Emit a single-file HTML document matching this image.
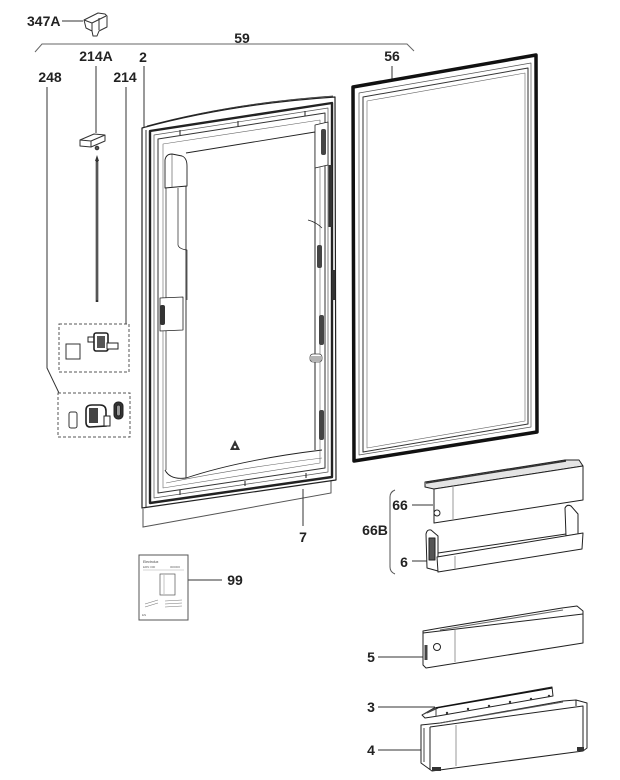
<!DOCTYPE html>
<html>
<head>
<meta charset="utf-8">
<style>
html,body{margin:0;padding:0;background:#fff;}
svg{display:block;}
text{font-family:"Liberation Sans",Arial,sans-serif;font-weight:bold;font-size:14px;fill:#222;}
</style>
</head>
<body>
<svg width="620" height="780" viewBox="0 0 620 780" xmlns="http://www.w3.org/2000/svg">
<rect width="620" height="780" fill="#fff"/>

<!-- ===== Labels ===== -->
<text x="27" y="26">347A</text>
<text x="242" y="43" text-anchor="middle">59</text>
<text x="96" y="61" text-anchor="middle">214A</text>
<text x="143" y="62" text-anchor="middle">2</text>
<text x="50" y="82" text-anchor="middle">248</text>
<text x="125" y="82" text-anchor="middle">214</text>
<text x="392" y="61" text-anchor="middle">56</text>
<text x="303" y="542" text-anchor="middle">7</text>
<text x="235" y="585" text-anchor="middle">99</text>
<text x="375" y="535" text-anchor="middle">66B</text>
<text x="400" y="510" text-anchor="middle">66</text>
<text x="404" y="567" text-anchor="middle">6</text>
<text x="371" y="662" text-anchor="middle">5</text>
<text x="371" y="712" text-anchor="middle">3</text>
<text x="371" y="755" text-anchor="middle">4</text>

<!-- ===== Leader lines ===== -->
<g stroke="#333" stroke-width="1" fill="none">
  <line x1="62" y1="21" x2="83" y2="21"/>
  <path d="M35,52 L42,44 L407,44 L414,51" stroke="#666"/>
  <line x1="96" y1="66" x2="96" y2="133"/>
  <line x1="144" y1="66" x2="144" y2="127"/>
  <path d="M47,87 L47,368 L59,393"/>
  <line x1="126" y1="87" x2="126" y2="324"/>
  <line x1="392" y1="66" x2="392" y2="87"/>
  <path d="M143,509 L143,527 L331,493 L331,479" stroke="#555"/>
  <line x1="303" y1="489" x2="303" y2="526"/>
  <line x1="183" y1="580" x2="222" y2="580"/>
  <path d="M395,490 Q390,492 390,497 L390,567 Q390,572 395,574" stroke="#555"/>
  <line x1="412" y1="505" x2="433" y2="505"/>
  <line x1="412" y1="561" x2="428" y2="561"/>
  <line x1="378" y1="657" x2="425" y2="657"/>
  <line x1="378" y1="707" x2="435" y2="707"/>
  <line x1="378" y1="750" x2="425" y2="750"/>
</g>

<!-- ===== 347A part ===== -->
<g stroke="#333" stroke-width="1" fill="#fff" stroke-linejoin="round">
  <path d="M84,20 L98,13 L105,14 L107,16 L107,27 L99,31 L97,36 L93,36 L92,31 L86,28 Z"/>
  <path d="M84,20 L92,23 L106,16" fill="none"/>
  <path d="M92,23 L92,31" fill="none"/>
  <path d="M99,18 L99,30" fill="none"/>
</g>

<!-- ===== 214A part ===== -->
<g stroke="#333" stroke-width="1" fill="#fff" stroke-linejoin="round">
  <path d="M80,140 L94,134 L105,135 L105,141 L91,147 L80,146 Z"/>
  <path d="M80,140 L91,141 L105,135 M91,141 L91,147" fill="none"/>
  <circle cx="97" cy="148" r="1.8" fill="#555"/>
</g>
<!-- rod -->
<path d="M95,161 L97,155 L99,161 Z" fill="#333"/>
<line x1="97" y1="160" x2="97" y2="302" stroke="#333" stroke-width="2.6"/>
<line x1="97" y1="162" x2="97" y2="300" stroke="#999" stroke-width="0.7"/>

<!-- ===== 214 box ===== -->
<rect x="59" y="324" width="70" height="48" fill="none" stroke="#555" stroke-width="1" stroke-dasharray="3,2"/>
<rect x="66" y="344" width="14" height="15" fill="#fff" stroke="#333" stroke-width="1"/>
<g stroke="#222" stroke-width="1">
  <rect x="88" y="337" width="7" height="5" fill="#fff"/>
  <rect x="94" y="333" width="14" height="18" rx="2" fill="#fff" stroke-width="1.6"/>
  <rect x="97" y="336" width="8" height="12" fill="#555" stroke="none"/>
  <rect x="107" y="343" width="11" height="6" fill="#fff"/>
</g>

<!-- ===== 248 box ===== -->
<rect x="58" y="393" width="72" height="44" fill="none" stroke="#555" stroke-width="1" stroke-dasharray="3,2"/>
<rect x="69" y="412" width="8" height="16" rx="2" fill="#fff" stroke="#333"/>
<g stroke="#222" stroke-width="1">
  <path d="M86,410 Q86,405 92,405 L100,405 Q106,405 106,411 L106,426 L90,427 Q86,427 86,422 Z" fill="#fff" stroke-width="1.6"/>
  <rect x="89" y="408" width="9" height="15" fill="#444" stroke="none"/>
  <rect x="104" y="416" width="6" height="10" fill="#fff"/>
  <rect x="114" y="402" width="9" height="17" rx="4" fill="#333"/>
  <rect x="116.5" y="405" width="4" height="11" rx="2" fill="#999"/>
</g>

<!-- ===== Door (2) ===== -->
<g fill="none" stroke="#222" stroke-linejoin="round">
  <path d="M142,128 Q230,104 335,97 L336,480 L142,508 Z" fill="#fff" stroke-width="1.2"/>
  <path d="M146,130 L146,507" stroke-width="0.9"/>
  <path d="M147,126 Q232,103 333,96" stroke-width="0.8"/>
  <path d="M150,131 L332,103 L332,477 L150,503 Z" stroke-width="2.4"/>
  <path d="M154,135 L328,108 L328,472 L154,498 Z" stroke-width="0.7" stroke="#555"/>
  <path d="M158,139 L325,113 L325,468 L158,493 Z" stroke-width="1" stroke="#333"/>
  <path d="M163,144 L320,120 L320,463 L163,488 Z" stroke-width="0.6" stroke="#666"/>
  <!-- inner panel -->
  <path d="M186,153 L315,132 L315,450" stroke-width="0.9"/>
  <path d="M186,186 L186,478" stroke-width="0.9"/>
  <!-- bottom curved shelf -->
  <path d="M165,470 Q170,480 186,478 M186,478 Q240,460 322,450" stroke-width="0.9"/>
  <path d="M166,483 Q240,468 322,458" stroke-width="0.6" stroke="#666"/>
  <!-- top-left block -->
  <path d="M165,160 Q166,154 172,154 L182,156 Q187,158 187,166 L187,186 L165,188 Z" fill="#fff" stroke-width="0.9"/>
  <path d="M172,154 L172,187" stroke-width="0.5"/>
  <!-- left column -->
  <path d="M166,188 L166,470" stroke-width="0.7"/>
  <path d="M178,188 L178,245 Q179,249 187,250 L187,300" stroke-width="0.7"/>
  <path d="M160,298 L183,297 L183,330 L160,331 Z" fill="#fff" stroke-width="0.8"/>
  <rect x="160" y="305" width="5" height="20" rx="2" fill="#333" stroke="none"/>
  <!-- right column -->
  <path d="M315,125 L328,122 L328,165 L315,168 Z" fill="#fff" stroke-width="0.8"/>
  <path d="M315,168 L315,450" stroke-width="0.7"/>
  <path d="M308,220 Q316,222 322,228" stroke-width="0.7"/>
  <rect x="321" y="129" width="5" height="26" rx="2" fill="#444" stroke="none"/>
  <rect x="328.5" y="165" width="3.5" height="62" fill="#333" stroke="none"/>
  <rect x="317" y="245" width="5" height="23" rx="2" fill="#444" stroke="none"/>
  <rect x="319" y="315" width="5" height="30" rx="2" fill="#444" stroke="none"/>
  <rect x="319" y="410" width="5" height="30" rx="2" fill="#444" stroke="none"/>
  <rect x="332" y="270" width="3" height="30" fill="#333" stroke="none"/>
  <!-- ticks -->
  <path d="M180,130 L180,135 M238,121 L238,126 M305,111 L305,116" stroke-width="1"/>
  <path d="M180,490 L180,495 M245,481 L245,486 M306,473 L306,478" stroke-width="1"/>
</g>
<!-- vent icon -->
<g stroke="#444" stroke-width="0.8" fill="#fff">
  <rect x="310" y="354" width="12" height="8" rx="3"/>
  <path d="M312,356 L312,361 M314,356 L314,361 M316,356 L316,361 M318,356 L318,361 M320,356 L320,361"/>
</g>
<!-- recycling triangle -->
<path d="M235,440 L240,450 L230,450 Z" fill="#333"/>
<circle cx="235" cy="447" r="1.3" fill="#fff"/>

<!-- ===== Gasket (56) ===== -->
<g fill="none" stroke-linejoin="round">
  <path d="M353,87 L536,55 L537,432 L354,461 Z" fill="#fff" stroke="#111" stroke-width="3.5"/>
  <path d="M359,93 L531,63 L531,427 L359,455 Z" stroke="#555" stroke-width="0.7"/>
  <path d="M363,97 L528,68 L528,424 L363,452 Z" stroke="#333" stroke-width="1"/>
  <path d="M367,101 L525,73 L525,421 L367,448 Z" stroke="#666" stroke-width="0.6"/>
</g>

<!-- ===== Bin 66 ===== -->
<g stroke="#222" stroke-width="1" stroke-linejoin="round">
  <path d="M425,482 L565,460 L579,460 L583,466 L434,489 L425,487 Z" fill="#e4e4e4"/>
  <path d="M426,483 L566,461" fill="none" stroke="#333" stroke-width="1.4"/>
  <path d="M434,489 L583,466 L583,500 L434,523 Z" fill="#fff"/>
  <line x1="453" y1="487" x2="453" y2="520" stroke="#999"/>
  <circle cx="437" cy="513" r="3" fill="#fff"/>
</g>

<!-- ===== Bin 6 ===== -->
<g stroke="#222" stroke-width="1" stroke-linejoin="round">
  <path d="M565,508 Q567,504 571,506 L578,514 L578,534 L566,536 Z" fill="#fff"/>
  <path d="M438,553 L566,534" fill="none"/>
  <path d="M426,534 Q427,529 431,530 L438,536 L438,571 L427,568 Z" fill="#fff"/>
  <rect x="429" y="538" width="6" height="22" fill="#555"/>
  <path d="M437,557 L583,533 L582,549 L438,572 Z" fill="#fff"/>
  <line x1="455" y1="556" x2="455" y2="569" stroke="#999"/>
</g>

<!-- ===== Bin 5 ===== -->
<g stroke="#222" stroke-width="1" stroke-linejoin="round">
  <path d="M423,631 L440,628 L562,608 L577,606 L583,611 L583,643 L426,668 L423,665 Z" fill="#fff"/>
  <path d="M423,633 L583,614" fill="none"/>
  <path d="M440,630 L563,610" fill="none" stroke="#666"/>
  <line x1="455" y1="630" x2="455" y2="662" stroke="#999"/>
  <circle cx="437" cy="647" r="3.5" fill="#fff"/>
  <rect x="424.5" y="645" width="3" height="15" fill="#444" stroke="none"/>
</g>

<!-- ===== Strip 3 ===== -->
<g stroke="#222" stroke-width="1" stroke-linejoin="round">
  <path d="M422,715 L434,708 L552,687 L553,696 L438,716 L425,718 Z" fill="#fff"/>
  <path d="M424,714 L436,708 L436,716 M427,713 L438,708" fill="none" stroke="#444"/>
  <path d="M436,708 L552,688" fill="none" stroke="#111" stroke-width="1.3"/>
  <g fill="#333" stroke="none">
    <circle cx="447" cy="713" r="1.2"/><circle cx="468" cy="709" r="1.2"/>
    <circle cx="489" cy="706" r="1.2"/><circle cx="510" cy="702" r="1.2"/>
    <circle cx="531" cy="699" r="1.2"/><circle cx="549" cy="696" r="1.2"/>
  </g>
</g>

<!-- ===== Bin 4 ===== -->
<g stroke="#222" stroke-width="1" stroke-linejoin="round">
  <path d="M421,725 L440,723 L563,701 L576,700 L587,703 L587,748 L583,751 L432,771 L421,763 Z" fill="#fff"/>
  <path d="M430,727 L583,706 L583,751" fill="none"/>
  <path d="M440,723 L563,702" fill="none" stroke="#555"/>
  <path d="M576,700 L576,706" fill="none"/>
  <line x1="430" y1="727" x2="430" y2="770"/>
  <line x1="424" y1="728" x2="424" y2="762" stroke="#444"/>
  <line x1="456" y1="725" x2="456" y2="766" stroke="#999"/>
  <rect x="432" y="767" width="9" height="4" fill="#333" stroke="none"/>
  <rect x="577" y="747" width="7" height="4" fill="#333" stroke="none"/>
</g>

<!-- ===== Booklet 99 ===== -->
<g>
  <rect x="139" y="555" width="49" height="65" fill="#fff" stroke="#555" stroke-width="1"/>
  <text x="143" y="563" style="font-size:3.5px;font-weight:normal;fill:#444">Electrolux</text>
  <text x="143" y="568" style="font-size:3px;font-weight:normal;fill:#666">ERN 000</text>
  <text x="170" y="568" style="font-size:3px;font-weight:normal;fill:#666">000000</text>
  <line x1="143" y1="570" x2="184" y2="570" stroke="#aaa" stroke-width="0.5"/>
  <rect x="160" y="574" width="15" height="21" fill="#fff" stroke="#555" stroke-width="0.7"/>
  <line x1="164" y1="575" x2="164" y2="594" stroke="#888" stroke-width="0.5"/>
  <path d="M145,604 L158,600 M145,607 L158,603 M165,601 L182,600 M165,604 L182,603 M165,607 L182,606" stroke="#777" stroke-width="0.6"/>
  <text x="142" y="616" style="font-size:3px;font-weight:normal;fill:#666">EN</text>
</g>

</svg>
</body>
</html>
